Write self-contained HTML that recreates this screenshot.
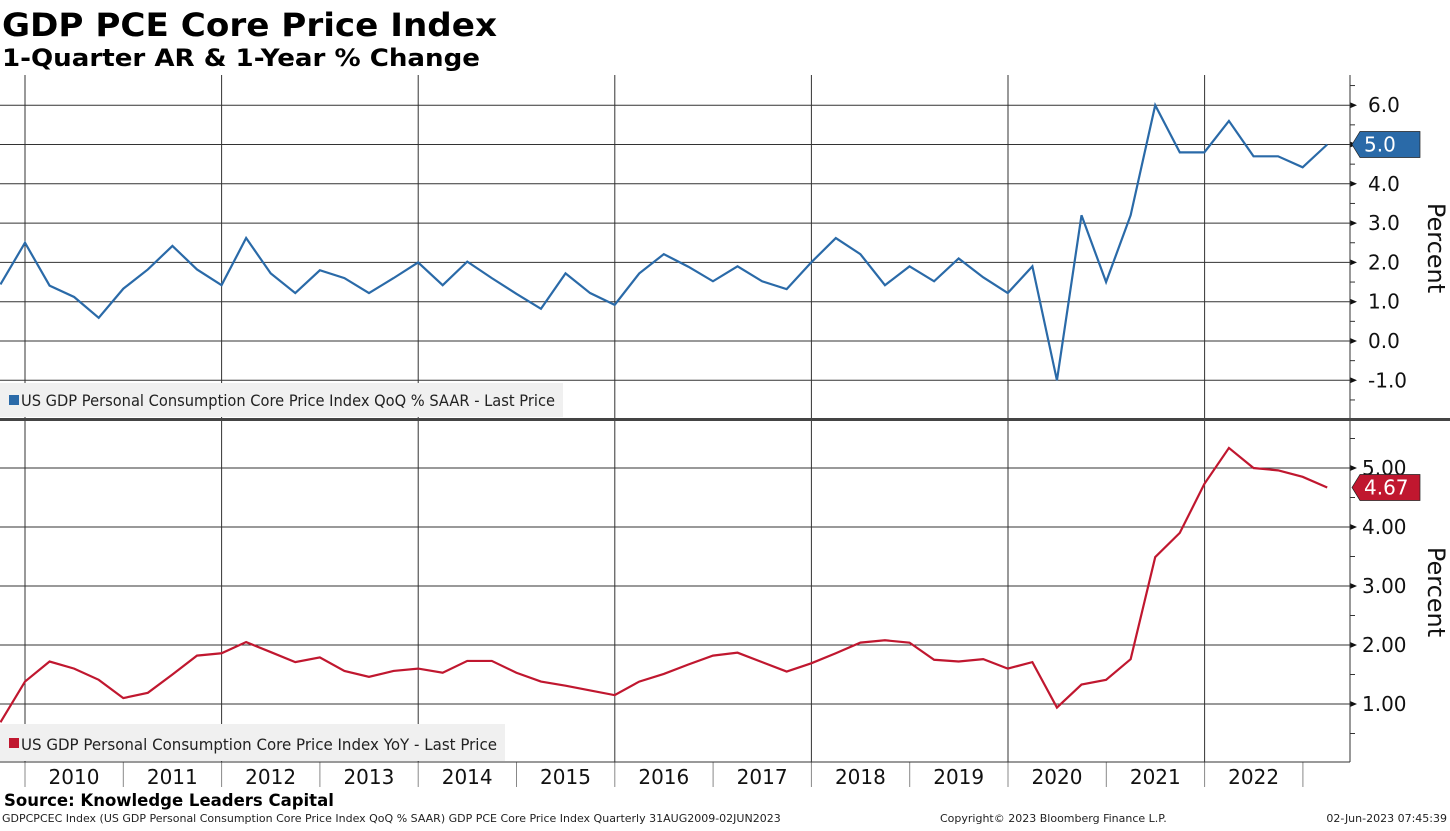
<!DOCTYPE html>
<html><head><meta charset="utf-8"><style>
body{margin:0;background:#fff;width:1450px;height:827px;overflow:hidden;font-family:"DejaVu Sans","Liberation Sans",sans-serif}
svg text{font-family:"DejaVu Sans","Liberation Sans",sans-serif}
</style></head><body>
<svg id="chart" width="1450" height="827" xmlns="http://www.w3.org/2000/svg">
<text x="2" y="36" font-size="32" font-weight="bold" fill="#000" textLength="495" lengthAdjust="spacingAndGlyphs">GDP PCE Core Price Index</text>
<text x="2" y="66" font-size="24" font-weight="bold" fill="#000" textLength="478" lengthAdjust="spacingAndGlyphs">1-Quarter AR &amp; 1-Year % Change</text>
<g id="grid"></g>
<g id="series"></g>
<g id="axes"></g>
<rect x="0" y="383" width="563" height="34" fill="#f0f0f0"/>
<rect x="9" y="395" width="10" height="10" fill="#2a6aa8"/>
<text x="21" y="406" font-size="16" fill="#222" textLength="534" lengthAdjust="spacingAndGlyphs">US GDP Personal Consumption Core Price Index QoQ % SAAR - Last Price</text>
<rect x="0" y="724" width="505" height="37" fill="#f0f0f0"/>
<rect x="9" y="738" width="10" height="10" fill="#c0172f"/>
<text x="21" y="750" font-size="16" fill="#222" textLength="476" lengthAdjust="spacingAndGlyphs">US GDP Personal Consumption Core Price Index YoY - Last Price</text>
<rect x="0" y="418" width="1450" height="3" fill="#444"/>
<text x="4" y="806" font-size="16.5" font-weight="bold" fill="#000">Source: Knowledge Leaders Capital</text>
<text x="2" y="822" font-size="11" fill="#222">GDPCPCEC Index (US GDP Personal Consumption Core Price Index QoQ % SAAR) GDP PCE Core Price Index  Quarterly 31AUG2009-02JUN2023</text>
<text x="940" y="822" font-size="11" fill="#222">Copyright© 2023 Bloomberg Finance L.P.</text>
<text x="1447" y="822" font-size="11" fill="#222" text-anchor="end">02-Jun-2023 07:45:39</text>
</svg>
<script>
const years=["2010","2011","2012","2013","2014","2015","2016","2017","2018","2019","2020","2021","2022"];
const qoqValues=[1.44,2.5,1.41,1.12,0.59,1.33,1.82,2.42,1.82,1.42,2.62,1.72,1.22,1.8,1.6,1.22,1.6,2.0,1.42,2.02,1.6,1.2,0.82,1.72,1.22,0.92,1.72,2.21,1.89,1.52,1.9,1.52,1.32,2.0,2.62,2.21,1.42,1.9,1.52,2.1,1.62,1.22,1.9,-1.0,3.2,1.5,3.2,6.0,4.8,4.8,5.6,4.7,4.7,4.42,5.0];
const yoyValues=[0.69,1.38,1.72,1.6,1.41,1.1,1.19,1.5,1.82,1.86,2.05,1.88,1.71,1.79,1.56,1.46,1.56,1.6,1.53,1.73,1.73,1.53,1.38,1.31,1.23,1.15,1.38,1.51,1.67,1.82,1.87,1.71,1.55,1.69,1.86,2.04,2.08,2.04,1.75,1.72,1.76,1.6,1.71,0.94,1.33,1.41,1.76,3.49,3.9,4.73,5.34,5.0,4.96,4.85,4.67];
const topTicks=[6,5,4,3,2,1,0,-1];
const topTickLabels=["6.0","5.0","4.0","3.0","2.0","1.0","0.0","-1.0"];
const botTicks=[5,4,3,2,1];
const botTickLabels=["5.00","4.00","3.00","2.00","1.00"];
const NS="http://www.w3.org/2000/svg";
const xQ=i=>25+(i-1)*24.57;
const xYear=k=>25+k*98.3;
const yTop=v=>341-v*39.3;
const yBot=v=>704-(v-1)*59;
function mk(parent,tag,attrs){const e=document.createElementNS(NS,tag);for(const k in attrs)e.setAttribute(k,attrs[k]);document.getElementById(parent).appendChild(e);return e;}
topTicks.forEach((v,i)=>{
  const l=mk('grid','line',{x1:0,x2:1350,y1:yTop(v),y2:yTop(v),stroke:'#333','stroke-width':1});
  
  
  const t=mk('axes','text',{x:1368,y:yTop(v)+7,'font-size':20,fill:'#111'});t.textContent=topTickLabels[i];
  
  
  const m=mk('axes','path',{d:`M1350 ${yTop(v)-3}L1357 ${yTop(v)}L1350 ${yTop(v)+3}Z`,fill:'#111'});
  
  
});
for(let v=-1.5;v<=6.5;v+=1){const m=mk('axes','line',{x1:1350,x2:1355,y1:yTop(v),y2:yTop(v),stroke:'#333'});
  
  }
botTicks.forEach((v,i)=>{
  const l=mk('grid','line',{x1:0,x2:1350,y1:yBot(v),y2:yBot(v),stroke:'#333','stroke-width':1});
  
  
  const t=mk('axes','text',{x:1362,y:yBot(v)+7,'font-size':20,fill:'#111'});t.textContent=botTickLabels[i];
  
  
  const m=mk('axes','path',{d:`M1350 ${yBot(v)-3}L1357 ${yBot(v)}L1350 ${yBot(v)+3}Z`,fill:'#111'});
  
  
});
for(let v=0.5;v<=5.5;v+=1){const m=mk('axes','line',{x1:1350,x2:1355,y1:yBot(v),y2:yBot(v),stroke:'#333'});
  
  }
for(let k=0;k<years.length;k+=2){
  const l=mk('grid','line',{x1:xYear(k),x2:xYear(k),y1:75,y2:762,stroke:'#333','stroke-width':1});
  
  
}
years.forEach((y,k)=>{
  const t=mk('axes','text',{x:xYear(k)+49,y:784,'font-size':20,fill:'#111','text-anchor':'middle'});t.textContent=y;
  
  
});
for(let k=0;k<=years.length;k++){const s=mk('axes','line',{x1:xYear(k),x2:xYear(k),y1:762,y2:787,stroke:'#888'});
  
  }
const ax=mk('axes','line',{x1:0,x2:1350,y1:762,y2:762,stroke:'#333'});


const ra=mk('axes','line',{x1:1350,x2:1350,y1:75,y2:762,stroke:'#333'});


const p1=mk('series','polyline',{points:qoqValues.map((v,i)=>xQ(i)+','+yTop(v)).join(' '),fill:'none',stroke:'#2a6aa8','stroke-width':2.2});


const p2=mk('series','polyline',{points:yoyValues.map((v,i)=>xQ(i)+','+yBot(v)).join(' '),fill:'none',stroke:'#c0172f','stroke-width':2.2});


function badge(y,txt,col,name){
  const b=mk('axes','path',{d:`M1352 ${y}L1360 ${y-13}L1420 ${y-13}L1420 ${y+13}L1360 ${y+13}Z`,fill:col,stroke:'#222','stroke-width':0.7});
  
  
  const t=mk('axes','text',{x:1364,y:y+7,'font-size':20,fill:'#fff'});t.textContent=txt;
  
  
}
badge(yTop(qoqValues[qoqValues.length-1]),qoqValues[qoqValues.length-1].toFixed(1),'#2a6aa8','top-last-value-badge');
badge(yBot(yoyValues[yoyValues.length-1]),yoyValues[yoyValues.length-1].toFixed(2),'#c0172f','bottom-last-value-badge');
[[248,'top-y-axis-title'],[592,'bottom-y-axis-title']].forEach(([cy,n])=>{
  const t=mk('axes','text',{x:1428,y:cy,'font-size':24,fill:'#111','text-anchor':'middle',transform:`rotate(90 1428 ${cy})`});t.textContent='Percent';
  
  
});
</script>
</body></html>
